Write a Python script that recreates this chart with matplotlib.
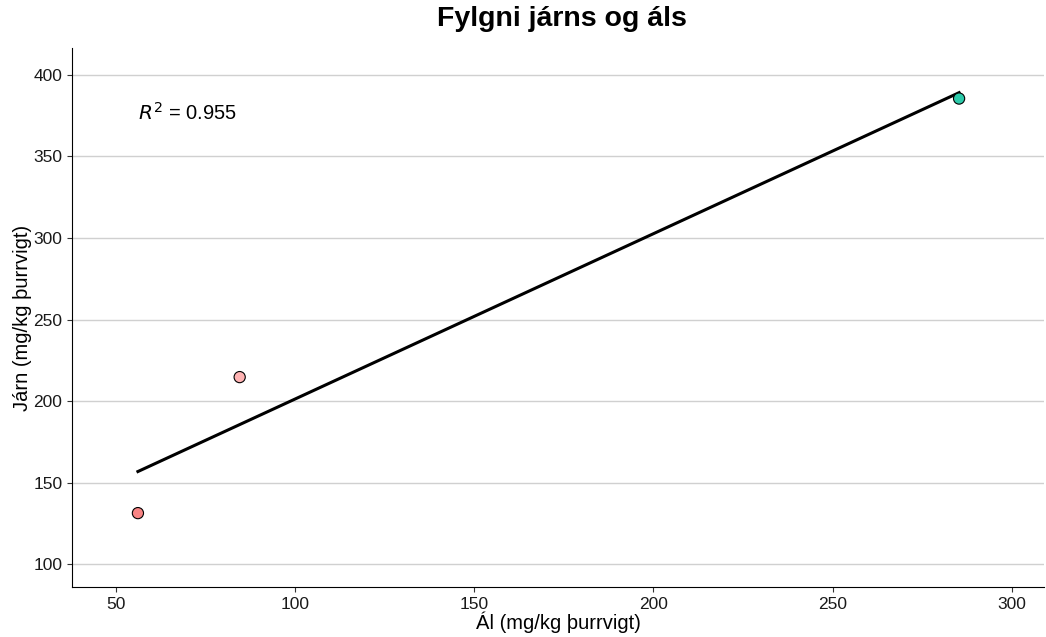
import numpy as np
import matplotlib.pyplot as plt

plt.rcParams['font.family'] = ['Liberation Sans', 'DejaVu Sans']

al = [56.1, 84.5, 285.3]
jarn = [131.3, 214.7, 385.5]
colors = ['#F88484', '#FFB3B3', '#2CCAAA']
r2_text = '0.955'

fig = plt.figure(figsize=(10.46, 6.37), dpi=100)
ax = fig.add_axes([72 / 1046, 1 - 587 / 637, 972 / 1046, (587 - 48) / 637])

# regression line
slope, intercept = np.polyfit(al, jarn, 1)
xs = np.array([min(al), max(al)])
ax.plot(xs, slope * xs + intercept, color='black', lw=2.2, zorder=3)

ax.scatter(al, jarn, c=colors, s=65, edgecolors='black', linewidths=0.8, zorder=4)

ax.text(56, 377, r'$R^2$ = ' + r2_text, fontsize=14.5, va='center', ha='left')

ax.set_xlim(37.7, 309)
ax.set_ylim(86, 416.5)
ax.set_xticks([50, 100, 150, 200, 250, 300])
ax.set_yticks([100, 150, 200, 250, 300, 350, 400])
ax.yaxis.grid(True, color='#d0d0d0', lw=1)
ax.set_axisbelow(True)
for s in ['top', 'right']:
    ax.spines[s].set_visible(False)
ax.tick_params(labelsize=12.5, length=3.5, colors='#333333', labelcolor='#1a1a1a')
ax.set_xlabel('Ál (mg/kg þurrvigt)', fontsize=14.5, labelpad=0)
ax.set_ylabel('Járn (mg/kg þurrvigt)', fontsize=14.5, labelpad=1)
fig.suptitle('Fylgni járns og áls', fontsize=20.5, fontweight='bold', x=0.537, y=0.99)

fig.savefig('out.png', dpi=100)
